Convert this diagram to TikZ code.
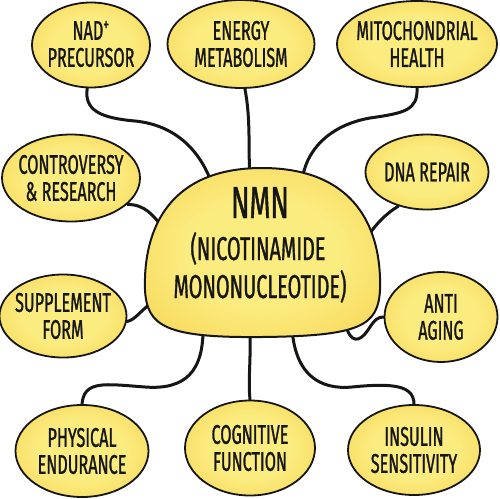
\documentclass[tikz,border=0pt]{standalone}
\usepackage{fontspec}
\setmainfont{Fira Sans}[FakeStretch=0.6, FakeBold=1]
\usetikzlibrary{shapes.geometric}
\definecolor{bin}{RGB}{251,236,128}
\definecolor{bout}{RGB}{244,195,50}
\definecolor{ink}{RGB}{22,22,22}
\pgfdeclareradialshading{blobshade}{\pgfpoint{0bp}{0bp}}{color(0bp)=(bin); color(16bp)=(bin); color(50bp)=(bout); color(100bp)=(bout)}
\begin{document}
\begin{tikzpicture}[x=1pt,y=-1pt,
  blob/.style={ellipse, draw=ink, line width=1.8pt, shading=blobshade, inner sep=0pt},
  lbl/.style={align=center, font=\fontsize{27}{27}\selectfont, text=ink, inner sep=0pt},
  big/.style={anchor=base, text=ink, inner sep=0pt},
  conn/.style={line width=3pt, line cap=round, draw=ink}]
\fill[white] (0,0) rectangle (500,498);
\useasboundingbox (0,0) rectangle (500,498);

% satellite blobs
\node[blob, minimum width=118pt, minimum height=85pt] (nad) at (91,45) {};
\node[blob, minimum width=147pt, minimum height=88pt] (energy) at (241,44) {};
\node[blob, minimum width=160pt, minimum height=86pt] (mito) at (417,44) {};
\node[blob, minimum width=138pt, minimum height=87pt] (contr) at (71,178) {};
\node[blob, minimum width=123pt, minimum height=75pt] (dna) at (427,172) {};
\node[blob, minimum width=127pt, minimum height=83pt] (supp) at (63,316) {};
\node[blob, minimum width=113pt, minimum height=90pt] (anti) at (441,317) {};
\node[blob, minimum width=133pt, minimum height=92pt] (phys) at (82,451) {};
\node[blob, minimum width=130pt, minimum height=95pt] (cog) at (250,448) {};
\node[blob, minimum width=132pt, minimum height=90pt] (ins) at (414,450) {};

% anchor points inside the central blob
\coordinate (cA) at (212,184);
\coordinate (cB) at (250,180);
\coordinate (cC) at (302,182);
\coordinate (cD) at (162,226);
\coordinate (cE) at (370,233);
\coordinate (cF) at (156,300);
\coordinate (cG) at (345,322);
\coordinate (cH) at (203,326);
\coordinate (cI) at (250,328);
\coordinate (cJ) at (292,328);

% connectors
\draw[conn] (nad.265) .. controls (84,110) and (100,118) .. (135,121) .. controls (175,125) and (200,150) .. (cA);
\draw[conn] (energy.-85) .. controls (251,120) and (248,150) .. (cB);
\draw[conn] (mito.south) .. controls (418,110) and (405,113) .. (370,118) .. controls (330,125) and (305,150) .. (cC);
\draw[conn] (contr.-25) .. controls (146,205) and (152,215) .. (cD);
\draw[conn] (dna.230) .. controls (384,215) and (376,225) .. (cE);
\draw[conn] (supp.-5) .. controls (136,320) and (142,308) .. (cF);
\draw[conn] (cG) .. controls (350,345) and (360,342) .. (368,330) .. controls (375,319) and (378,317) .. (anti.west);
\draw[conn] (cH) .. controls (204,372) and (185,390) .. (145,387) .. controls (105,384) and (84,380) .. (phys.north);
\draw[conn] (cI) .. controls (251,360) and (248,380) .. (cog.north);
\draw[conn] (cJ) .. controls (295,375) and (320,390) .. (352,387) .. controls (392,383) and (414,385) .. (ins.north);

% central blob
\path[draw=ink, line width=2pt, shading=blobshade]
  (145,290) .. controls (143,228) and (170,168) .. (262,168)
  .. controls (355,168) and (382,228) .. (380,290)
  .. controls (378,326) and (360,336) .. (262,337)
  .. controls (165,338) and (147,326) .. (145,290) -- cycle;

% labels
\node[lbl] (nadT) at (91,44) {NAD\textsuperscript{+}\\PRECURSOR};
\node[lbl] (energyT) at (energy) {ENERGY\\METABOLISM};
\node[lbl] (mitoT) at (mito) {MITOCHONDRIAL\\HEALTH};
\node[lbl] (contrT) at (contr) {CONTROVERSY\\\& RESEARCH};
\node[lbl] (dnaT) at (dna) {DNA REPAIR};
\node[lbl] (suppT) at (supp) {SUPPLEMENT\\FORM};
\node[lbl] (antiT) at (anti) {ANTI\\AGING};
\node[lbl] (physT) at (phys) {PHYSICAL\\ENDURANCE};
\node[lbl] (cogT) at (cog) {COGNITIVE\\FUNCTION};
\node[lbl] (insT) at (ins) {INSULIN\\SENSITIVITY};
\node[big, font=\fontsize{45}{45}\selectfont] (nmnA) at (260,218) {NMN};
\node[big, font=\fontsize{33}{33}\selectfont] (nmnB) at (258,260) {(NICOTINAMIDE};
\node[big, font=\fontsize{33}{33}\selectfont] (nmnC) at (260,298) {MONONUCLEOTIDE)};
\end{tikzpicture}
\end{document}
